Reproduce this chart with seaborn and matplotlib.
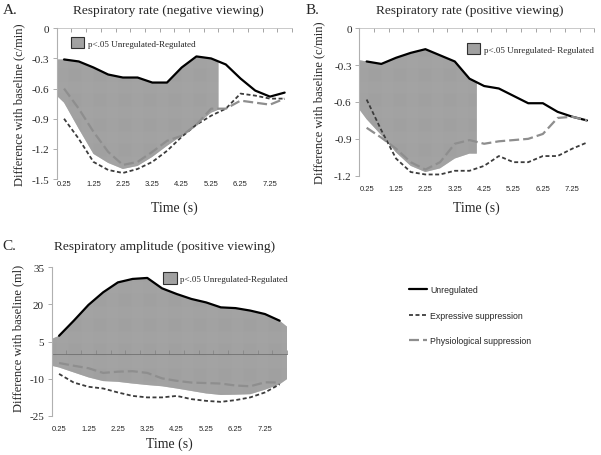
import matplotlib
matplotlib.use('Agg')
import matplotlib.pyplot as plt
from matplotlib.patches import Patch
from matplotlib.lines import Line2D
import pandas as pd
import seaborn as sns

sns.set_style('white')
plt.rcParams['font.family'] = ['Liberation Serif', 'DejaVu Serif']
plt.rcParams['axes.unicode_minus'] = False
plt.rcParams['hatch.linewidth'] = 0.35

# ---- data ----
time_s = [0.25, 0.75, 1.25, 1.75, 2.25, 2.75, 3.25, 3.75,
          4.25, 4.75, 5.25, 5.75, 6.25, 6.75, 7.25, 7.75]
xtick_pos = [0.25, 1.25, 2.25, 3.25, 4.25, 5.25, 6.25, 7.25]
xtick_labels = ['0.25', '1.25', '2.25', '3.25', '4.25', '5.25', '6.25', '7.25']
conditions = ['Unregulated', 'Expressive suppression', 'Physiological suppression']

# A. respiratory rate, negative viewing
a_unregulated = [-0.31, -0.33, -0.39, -0.46, -0.49, -0.49, -0.54, -0.54,
                 -0.39, -0.28, -0.30, -0.36, -0.50, -0.62, -0.68, -0.64]
a_expressive = [-0.90, -1.10, -1.33, -1.41, -1.44, -1.40, -1.33, -1.22,
                -1.08, -0.96, -0.87, -0.80, -0.65, -0.67, -0.70, -0.70]
a_physiological = [-0.60, -0.80, -1.03, -1.23, -1.36, -1.33, -1.23, -1.12,
                   -1.07, -0.96, -0.80, -0.80, -0.72, -0.74, -0.76, -0.70]
a_shade_x = [0, 0.25, 0.75, 1.25, 1.75, 2.25, 2.75, 3.25, 3.75, 4.25, 4.75, 5.25, 5.5]
a_shade_top = [-0.31, -0.31, -0.33, -0.39, -0.46, -0.49, -0.49, -0.54, -0.54,
               -0.39, -0.28, -0.30, -0.33]
a_shade_bottom = [-0.67, -0.74, -1.00, -1.25, -1.34, -1.40, -1.37, -1.28, -1.17,
                  -1.07, -0.96, -0.84, -0.81]
a_yticks = [0, -0.3, -0.6, -0.9, -1.2, -1.5]
a_ytick_labels = ['0', '-0.3', '-0.6', '-0.9', '-1.2', '-1.5']
a_legend = 'p<.05 Unregulated-Regulated'

# B. respiratory rate, positive viewing
b_unregulated = [-0.27, -0.29, -0.24, -0.20, -0.17, -0.22, -0.27, -0.41,
                 -0.47, -0.49, -0.55, -0.61, -0.61, -0.68, -0.72, -0.75]
b_expressive = [-0.58, -0.83, -1.06, -1.17, -1.19, -1.19, -1.16, -1.16,
                -1.12, -1.04, -1.09, -1.09, -1.04, -1.04, -0.98, -0.93]
b_physiological = [-0.81, -0.89, -0.98, -1.09, -1.15, -1.09, -0.94, -0.91,
                   -0.94, -0.92, -0.91, -0.90, -0.86, -0.73, -0.72, -0.75]
b_shade_x = [0, 0.25, 0.75, 1.25, 1.75, 2.25, 2.75, 3.25, 3.75, 4.0]
b_shade_top = [-0.26, -0.27, -0.29, -0.24, -0.20, -0.17, -0.22, -0.27, -0.41, -0.44]
b_shade_bottom = [-0.66, -0.74, -0.87, -1.01, -1.12, -1.17, -1.14, -1.06, -1.02, -1.02]
b_yticks = [0, -0.3, -0.6, -0.9, -1.2]
b_ytick_labels = ['0', '-0.3', '-0.6', '-0.9', '-1.2']
b_legend = 'p<.05 Unregulated- Regulated'

# C. respiratory amplitude, positive viewing
c_unregulated = [7.3, 13.4, 19.8, 24.9, 28.9, 30.3, 30.7, 26.5,
                 24.2, 22.2, 20.8, 18.8, 18.5, 17.5, 16.1, 13.4]
c_expressive = [-8.1, -11.6, -13.3, -14.0, -15.6, -17.0, -17.6, -17.6,
                -17.0, -18.3, -19.0, -19.4, -18.7, -17.6, -15.6, -12.3]
c_physiological = [-3.7, -4.8, -5.8, -7.7, -7.2, -7.0, -7.7, -9.9,
                   -10.9, -11.6, -11.8, -12.0, -12.8, -13.1, -11.5, -11.6]
c_shade_x = [0, 0.25, 0.75, 1.25, 1.75, 2.25, 2.75, 3.25, 3.75,
             4.25, 4.75, 5.25, 5.75, 6.25, 6.75, 7.25, 7.75, 8.0]
c_shade_top = [6.0, 7.3, 13.4, 19.8, 24.9, 28.9, 30.3, 30.7, 26.5,
               24.2, 22.2, 20.8, 18.8, 18.5, 17.5, 16.1, 13.4, 11.0]
c_shade_bottom = [-4.8, -5.5, -7.5, -9.5, -11.0, -11.3, -12.0, -12.6, -13.1,
                  -14.0, -15.0, -16.0, -16.6, -16.5, -16.3, -14.5, -12.3, -10.2]
c_yticks = [35, 20, 5, -10, -25]
c_ytick_labels = ['35', '20', '5', '-10', '-25']
c_legend = 'p<.05 Unregulated-Regulated'

# ---- styles ----
palette = {'Unregulated': '#000000',
           'Expressive suppression': '#3c3c3c',
           'Physiological suppression': '#8e8e8e'}
dash_map = {'Unregulated': '',
            'Expressive suppression': (2.2, 1.4),
            'Physiological suppression': (4.5, 1.8)}
size_map = {'Unregulated': 1.6,
            'Expressive suppression': 1.3,
            'Physiological suppression': 1.6}
shade_face = '#c0c0c0'
shade_hatch = '#a0a0a0'

W, H = 601, 456
fig = plt.figure(figsize=(W / 100, H / 100), dpi=100)


def px_rect(left, top, w, h):
    return [left / W, 1 - (top + h) / H, w / W, h / H]


def draw_panel(ax, unreg, expr, phys, sx, stop, sbot, yticks, ylabels,
               ylabel, leg_text, leg_xy, xlab_y, xtick_pad, ylab_xy):
    df = pd.DataFrame({
        'time': time_s * 3,
        'value': unreg + expr + phys,
        'condition': [c for c in conditions for _ in time_s],
    })
    ax.fill_between(sx, stop, sbot, facecolor=shade_face, edgecolor=shade_hatch,
                    hatch='+' * 16, linewidth=0, zorder=1)
    sns.lineplot(data=df, x='time', y='value', hue='condition', style='condition',
                 size='condition', palette=palette, dashes=dash_map, sizes=size_map,
                 hue_order=conditions, legend=False, ax=ax, zorder=3)
    ymax, ymin = yticks[0], yticks[-1]
    ax.set_xlim(0, 8)
    ax.set_ylim(ymin, ymax)
    ax.set_yticks(yticks)
    ax.set_yticklabels(ylabels, fontsize=8)
    ax.set_xticks(xtick_pos)
    ax.set_xticklabels(xtick_labels, fontsize=5.5, family=['Liberation Sans'])
    ax.tick_params(axis='x', length=0, pad=xtick_pad)
    ax.tick_params(axis='y', length=3, width=0.6, color='#a0a0a0', pad=2.5,
                   left=True, direction='out')
    for s in ['top', 'right', 'bottom']:
        ax.spines[s].set_visible(False)
    ax.spines['left'].set_color('#b0b0b0')
    ax.spines['left'].set_linewidth(0.8)
    ax.set_xlabel('Time (s)', fontsize=10)
    ax.xaxis.set_label_coords(0.5, xlab_y)
    ax.set_ylabel(ylabel, fontsize=9)
    ax.yaxis.set_label_coords(*ylab_xy)

    # category axis drawn at y = 0 with boundary ticks
    zero_frac = (0 - ymin) / (ymax - ymin)
    sec = ax.secondary_xaxis(zero_frac)
    sec.set_zorder(2)
    sec.set_xticks([0, 0.5, 1, 1.5, 2, 2.5, 3, 3.5, 4, 4.5, 5, 5.5, 6, 6.5, 7, 7.5, 8])
    sec.tick_params(axis='x', direction='in', length=3, width=0.5,
                    color='#808080', labeltop=False, labelbottom=False)
    for s in sec.spines.values():
        s.set_color('#707070' if zero_frac < 1 else '#c0c0c0')
        s.set_linewidth(0.6)

    box = (Patch(facecolor=shade_face, edgecolor=shade_hatch, hatch='+' * 16,
                 linewidth=0),
           Patch(fill=False, edgecolor='#303030', linewidth=0.8))
    ax.legend(handles=[box], labels=[leg_text], loc='upper left',
              bbox_to_anchor=leg_xy, frameon=False, fontsize=6.5,
              handlelength=1.5, handleheight=1.5, handletextpad=0.4,
              borderpad=0, borderaxespad=0)


ax_a = fig.add_axes(px_rect(56.7, 29.3, 235.3, 150.7))
draw_panel(ax_a, a_unregulated, a_expressive, a_physiological,
           a_shade_x, a_shade_top, a_shade_bottom, a_yticks, a_ytick_labels,
           'Difference with baseline (c/min)', a_legend, (0.06, 0.94), -0.14, 1.0,
           (-0.135, 0.5))

ax_b = fig.add_axes(px_rect(359.3, 29.3, 235.0, 147.4))
draw_panel(ax_b, b_unregulated, b_expressive, b_physiological,
           b_shade_x, b_shade_top, b_shade_bottom, b_yticks, b_ytick_labels,
           'Difference with baseline (c/min)', b_legend, (0.457, 0.90), -0.165, 7.0,
           (-0.145, 0.5))

ax_c = fig.add_axes(px_rect(51.7, 268.3, 235.3, 148.4))
draw_panel(ax_c, c_unregulated, c_expressive, c_physiological,
           c_shade_x, c_shade_top, c_shade_bottom, c_yticks, c_ytick_labels,
           'Difference with baseline (ml)', c_legend, (0.473, 0.965), -0.14, 7.0,
           (-0.118, 0.53))

# titles and panel letters
fig.text(168 / W, 1 - 11 / H, 'Respiratory rate (negative viewing)',
         ha='center', va='center', fontsize=9.6)
fig.text(470 / W, 1 - 11 / H, 'Respiratory rate (positive viewing)',
         ha='center', va='center', fontsize=9.6)
fig.text(165 / W, 1 - 247 / H, 'Respiratory amplitude (positive viewing)',
         ha='center', va='center', fontsize=9.6)
fig.text(3 / W, 1 - 11 / H, 'A.', ha='left', va='center', fontsize=11)
fig.text(306 / W, 1 - 11 / H, 'B.', ha='left', va='center', fontsize=11)
fig.text(2 / W, 1 - 247 / H, 'C.', ha='left', va='center', fontsize=11)

# shared line legend
handles = [Line2D([], [], color=palette[c], linewidth=size_map[c],
                  dashes=dash_map[c] if dash_map[c] else (None, None))
           for c in conditions]
fig.legend(handles=handles, labels=conditions, loc='upper left',
           bbox_to_anchor=(409 / W, 1 - 286 / H), frameon=False,
           prop={'family': 'Liberation Sans', 'size': 6.3},
           handlelength=2.1, handletextpad=0.3, labelspacing=1.9,
           borderpad=0, borderaxespad=0)

fig.savefig('out.png', dpi=100)
